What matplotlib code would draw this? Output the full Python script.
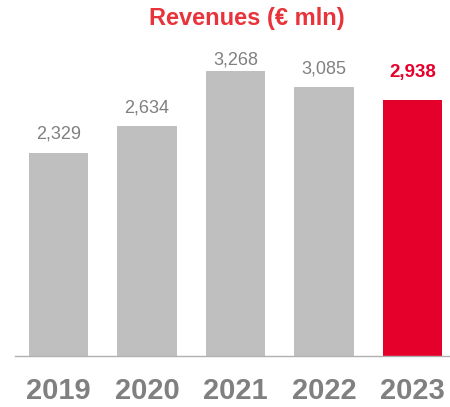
import numpy as np
from matplotlib import pyplot as plt

plt.rcParams['font.family'] = ['Liberation Sans', 'DejaVu Sans']

# Chart data
years = ["2019", "2020", "2021", "2022", "2023"]
revenues = [2329, 2634, 3268, 3085, 2938]
valueLabels = ["2,329", "2,634", "3,268", "3,085", "2,938"]

grey = "#bfbfbf"
red = "#e4002b"
textGrey = "#808080"

fig = plt.figure(figsize=(4.5, 4.07), dpi=100)
ax = fig.add_axes([0, 0, 1, 1])

x = np.arange(len(years))
colors = [grey]*(len(years)-1) + [red]
ax.bar(x, revenues, width=0.667, color=colors)

# pixel-ish mapping: 88.5 px between bars, first centre at 58.5 px
ax.set_xlim(-58.5/88.5, (450-58.5)/88.5)
unit = 11.47  # data units per pixel
ax.set_ylim(-51*unit, 356*unit)
ax.axis('off')

# baseline
ax.axhline(0, xmin=15/450, xmax=1, color="#b0b0b0", linewidth=1)

for i, (v, lab) in enumerate(zip(revenues, valueLabels)):
    # label gaps (px) differ a bit per bar in the original
    gap = {2: 7, 4: 23}.get(i, 14)
    if i == len(years)-1:
        ax.annotate(lab, (x[i], v), xytext=(0, gap), textcoords='offset pixels',
                    ha='center', va='baseline', fontsize=13.5, fontweight='bold', color=red)
    else:
        ax.annotate(lab, (x[i], v), xytext=(0, gap), textcoords='offset pixels',
                    ha='center', va='baseline', fontsize=13, color=textGrey)
    ax.text(x[i], -35*unit, years[i], ha='center', va='center',
            fontsize=21, fontweight='bold', color=textGrey)

fig.text(246.5/450, 1-19/407, "Revenues (€ mln)", ha='center', va='center',
         fontsize=17, fontweight='bold', color="#e8333b")

fig.savefig("out.png", dpi=100)
